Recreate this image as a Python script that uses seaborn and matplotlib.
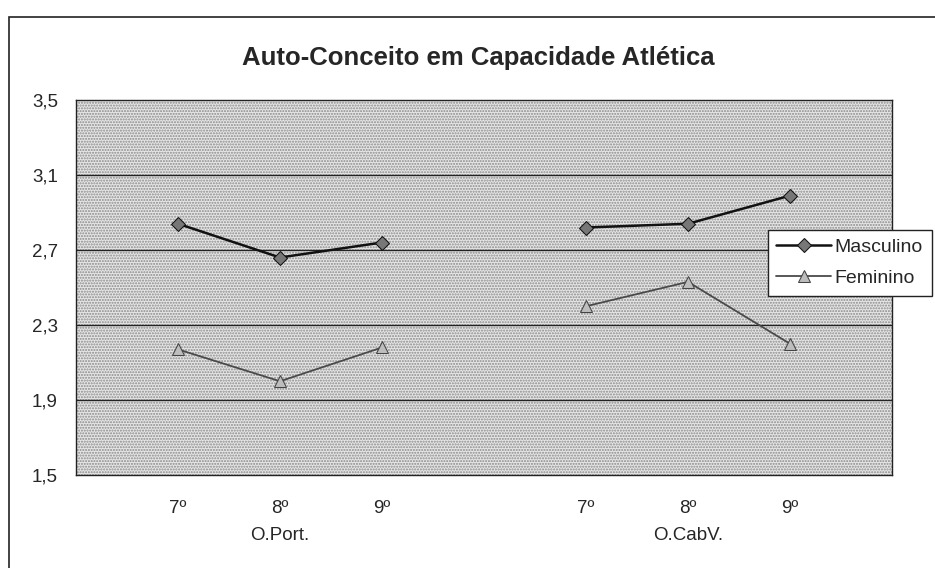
import matplotlib
matplotlib.use("Agg")
import matplotlib.pyplot as plt
from matplotlib.patches import Rectangle
import pandas as pd
import seaborn as sns

# values
grades = ["7º", "8º", "9º"]
groups = ["O.Port.", "O.CabV."]
masculino = [2.84, 2.66, 2.74, 2.82, 2.84, 2.99]
feminino = [2.17, 2.00, 2.18, 2.40, 2.53, 2.20]
series = ["Masculino", "Feminino"]

rows = []
for s, vals in zip(series, [masculino, feminino]):
    for gi, g in enumerate(groups):
        for ci, c in enumerate(grades):
            rows.append((s, g, c, gi * 4 + ci, vals[gi * 3 + ci]))
df = pd.DataFrame(rows, columns=["sexo", "grupo", "ano", "pos", "valor"])

sns.set_style("white")
plt.rcParams["font.family"] = ["Liberation Sans", "DejaVu Sans"]
plt.rcParams["hatch.color"] = "#8a8a8a"
plt.rcParams["hatch.linewidth"] = 1.0

fig = plt.figure(figsize=(9.35, 5.68), dpi=100)
ax = fig.add_axes([76 / 935, 1 - 475 / 568, 816 / 935, 375 / 568])
ax.set_facecolor("#e6e6e6")
ax.add_patch(Rectangle((0, 0), 1, 1, transform=ax.transAxes, facecolor="none",
                       edgecolor="#8a8a8a", hatch="......", linewidth=0, zorder=0))

for g in groups:
    sub = df[df.grupo == g]
    sns.lineplot(data=sub[sub.sexo == "Masculino"], x="pos", y="valor", ax=ax,
                 color="#111111", lw=1.8, marker="D", markersize=7,
                 markerfacecolor="#777777", markeredgecolor="#111111",
                 label="Masculino" if g == groups[0] else None, zorder=4)
    sns.lineplot(data=sub[sub.sexo == "Feminino"], x="pos", y="valor", ax=ax,
                 color="#4a4a4a", lw=1.3, marker="^", markersize=8,
                 markerfacecolor="#bdbdbd", markeredgecolor="#444444",
                 label="Feminino" if g == groups[0] else None, zorder=4)

ax.set_xlim(-1, 7)
ax.set_ylim(1.5, 3.5)
yt = [1.5, 1.9, 2.3, 2.7, 3.1, 3.5]
ax.set_yticks(yt)
ax.set_yticklabels([f"{v:.1f}".replace(".", ",") for v in yt], fontsize=13.5)
for v in yt[1:-1]:
    ax.axhline(v, color="#222222", lw=1.0, zorder=2)

pos = [gi * 4 + ci for gi in range(len(groups)) for ci in range(len(grades))]
ax.set_xticks(pos + [3])
ax.set_xticklabels(grades * len(groups) + [""], fontsize=13.5)
ax.tick_params(axis="x", direction="inout", length=8, width=1, pad=14, color="#222222")
ax.tick_params(axis="y", direction="out", length=7, width=1, pad=6, color="#222222")
for gi, g in enumerate(groups):
    ax.text(gi * 4 + 1, -0.16, g, transform=ax.get_xaxis_transform(),
            ha="center", va="center", fontsize=13.5)
ax.set_xlabel("")
ax.set_ylabel("")
for sp in ax.spines.values():
    sp.set_color("#222222")
    sp.set_linewidth(1.0)
    sp.set_visible(True)

leg = ax.legend(loc="upper left", bbox_to_anchor=(758 / 935, 1 - 220 / 568),
                bbox_transform=fig.transFigure, fontsize=14, frameon=True,
                fancybox=False, edgecolor="#222222", framealpha=1,
                borderpad=0.45, handlelength=2.8, handletextpad=0.2, labelspacing=0.7)
leg.get_frame().set_linewidth(1.0)

fig.text(478 / 935, 1 - 58 / 568, "Auto-Conceito em Capacidade Atlética",
         ha="center", va="center", fontsize=18.5, fontweight="bold")
# outer chart frame (cropped on the right and bottom in the scan)
fig.patches.append(Rectangle((9 / 935, -0.1), 1.1, 1 - 17 / 568 + 0.1,
                             transform=fig.transFigure, fill=False,
                             edgecolor="#222222", linewidth=1.2))

fig.savefig("out.png", dpi=100)
